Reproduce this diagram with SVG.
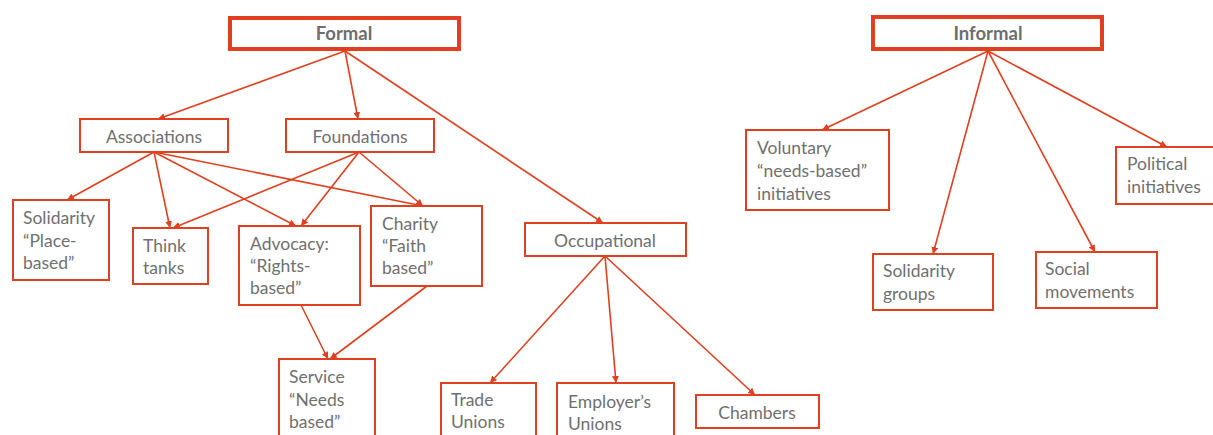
<svg xmlns="http://www.w3.org/2000/svg" width="1213" height="435" viewBox="0 0 1213 435">
  <style>
    .box { fill: #ffffff; stroke: #e0401f; stroke-width: 2; }
    .root { fill: #ffffff; stroke: #e0401f; stroke-width: 4; }
    .lbl { font-family: Lato, "Liberation Sans", sans-serif; font-size: 17.5px; fill: #707070; }
    .mid { text-anchor: middle; }
    .head { font-family: Lato, "Liberation Sans", sans-serif; font-size: 18.5px; font-weight: bold; fill: #6e6e6e; text-anchor: middle; }
    .edge { stroke: #e0401f; stroke-width: 1.6; fill: none; marker-end: url(#arrow); }
  </style>
  <defs>
    <marker id="arrow" viewBox="0 0 10 10" refX="10" refY="5" markerWidth="7" markerHeight="7" markerUnits="userSpaceOnUse" orient="auto">
      <path d="M0,0 L10,5 L0,10 z" fill="#e0401f"/>
    </marker>
  </defs>
  <rect width="1213" height="435" fill="#ffffff"/>

  <!-- connectors -->
  <g id="connectors">
    <!-- Formal -->
    <line class="edge" x1="345" y1="51" x2="158" y2="119"/>
    <line class="edge" x1="345" y1="51" x2="358" y2="119"/>
    <line class="edge" x1="345" y1="51" x2="603" y2="223"/>
    <!-- Associations -->
    <line class="edge" x1="154" y1="152" x2="67" y2="200"/>
    <line class="edge" x1="154" y1="152" x2="170" y2="228"/>
    <line class="edge" x1="154" y1="152" x2="296" y2="226"/>
    <line class="edge" x1="154" y1="152" x2="423" y2="206"/>
    <!-- Foundations -->
    <line class="edge" x1="359" y1="152" x2="173" y2="228"/>
    <line class="edge" x1="359" y1="152" x2="301" y2="226"/>
    <line class="edge" x1="359" y1="152" x2="423" y2="206"/>
    <!-- into Service -->
    <line class="edge" x1="301" y1="305" x2="328" y2="359"/>
    <line class="edge" x1="427" y1="286" x2="330" y2="359"/>
    <!-- Occupational -->
    <line class="edge" x1="605" y1="256" x2="490" y2="383"/>
    <line class="edge" x1="605" y1="256" x2="616" y2="383"/>
    <line class="edge" x1="605" y1="256" x2="755" y2="395"/>
    <!-- Informal -->
    <line class="edge" x1="988" y1="51" x2="822" y2="130"/>
    <line class="edge" x1="988" y1="51" x2="933" y2="254"/>
    <line class="edge" x1="988" y1="51" x2="1095" y2="252"/>
    <line class="edge" x1="988" y1="51" x2="1167" y2="147"/>
  </g>

  <!-- formal branch -->
  <g id="formal">
    <rect class="root" x="230" y="18" width="229" height="31"/>
    <text class="head" x="344" y="40">Formal</text>
  </g>
  <g id="associations">
    <rect class="box" x="80" y="119" width="148" height="33"/>
    <text class="lbl mid" x="154" y="143">Associations</text>
  </g>
  <g id="foundations">
    <rect class="box" x="286" y="119" width="148" height="33"/>
    <text class="lbl mid" x="360" y="143">Foundations</text>
  </g>
  <g id="solidarity-place">
    <rect class="box" x="13" y="200" width="96" height="80"/>
    <text class="lbl" x="23" y="224">Solidarity<tspan x="23" y="247">“Place-</tspan><tspan x="23" y="269">based”</tspan></text>
  </g>
  <g id="think-tanks">
    <rect class="box" x="133" y="228" width="75" height="56"/>
    <text class="lbl" x="143" y="252">Think<tspan x="143" y="274">tanks</tspan></text>
  </g>
  <g id="advocacy">
    <rect class="box" x="239" y="226" width="121" height="79"/>
    <text class="lbl" x="250" y="250">Advocacy:<tspan x="250" y="272">“Rights-</tspan><tspan x="250" y="294">based”</tspan></text>
  </g>
  <g id="charity">
    <rect class="box" x="371" y="206" width="111" height="80"/>
    <text class="lbl" x="382" y="230">Charity<tspan x="382" y="252">“Faith</tspan><tspan x="382" y="274">based”</tspan></text>
  </g>
  <g id="service">
    <rect class="box" x="279" y="359" width="96" height="90"/>
    <text class="lbl" x="289" y="383">Service<tspan x="289" y="406">“Needs</tspan><tspan x="289" y="428">based”</tspan></text>
  </g>
  <g id="occupational">
    <rect class="box" x="525" y="223" width="161" height="33"/>
    <text class="lbl mid" x="605" y="247">Occupational</text>
  </g>
  <g id="trade-unions">
    <rect class="box" x="441" y="383" width="95" height="70"/>
    <text class="lbl" x="451" y="406">Trade<tspan x="451" y="428">Unions</tspan></text>
  </g>
  <g id="employers-unions">
    <rect class="box" x="557" y="383" width="117" height="70"/>
    <text class="lbl" x="568" y="408">Employer’s<tspan x="568" y="430">Unions</tspan></text>
  </g>
  <g id="chambers">
    <rect class="box" x="696" y="395" width="123" height="33"/>
    <text class="lbl mid" x="757" y="419">Chambers</text>
  </g>

  <!-- informal branch -->
  <g id="informal">
    <rect class="root" x="873" y="17" width="229" height="32"/>
    <text class="head" x="988" y="40">Informal</text>
  </g>
  <g id="voluntary">
    <rect class="box" x="746" y="130" width="143" height="80"/>
    <text class="lbl" x="757" y="154">Voluntary<tspan x="757" y="177">“needs-based”</tspan><tspan x="757" y="200">initiatives</tspan></text>
  </g>
  <g id="solidarity-groups">
    <rect class="box" x="873" y="254" width="120" height="56"/>
    <text class="lbl" x="883" y="277">Solidarity<tspan x="883" y="300">groups</tspan></text>
  </g>
  <g id="social-movements">
    <rect class="box" x="1036" y="252" width="121" height="56"/>
    <text class="lbl" x="1045" y="275">Social<tspan x="1045" y="298">movements</tspan></text>
  </g>
  <g id="political">
    <rect class="box" x="1116" y="147" width="105" height="57"/>
    <text class="lbl" x="1127" y="170">Political<tspan x="1127" y="193">initiatives</tspan></text>
  </g>
</svg>
